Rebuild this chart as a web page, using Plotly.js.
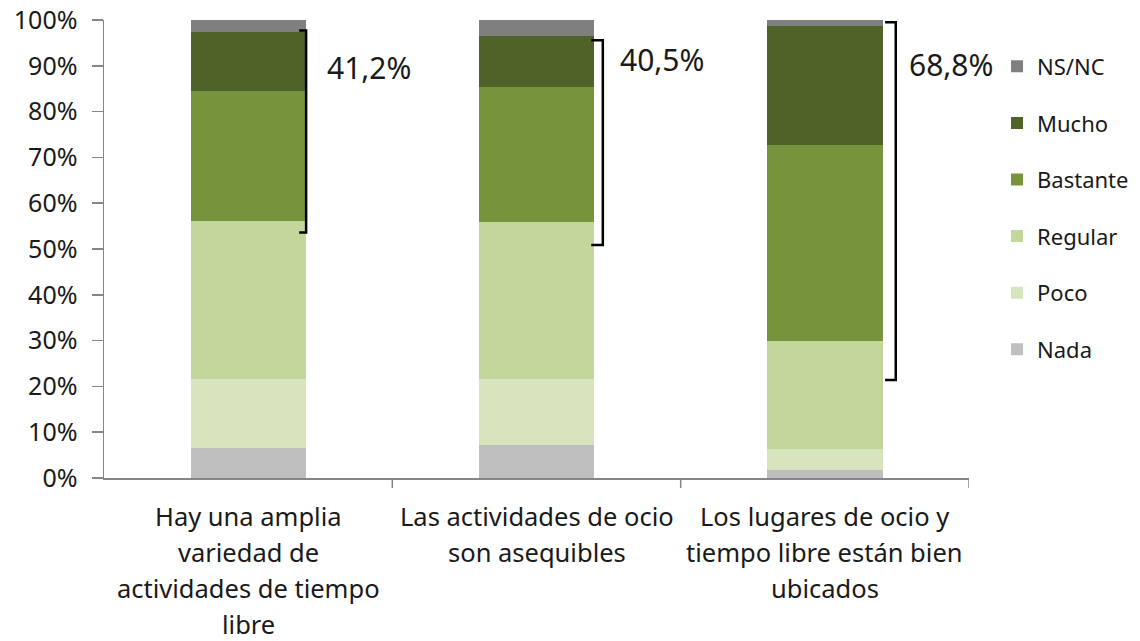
<!DOCTYPE html>
<html>
<head>
<meta charset="utf-8">
<script src="https://cdn.plot.ly/plotly-3.0.1.min.js"></script>
<style>html,body{margin:0;padding:0;background:#fff;}#chart{width:1140px;height:641px;}</style>
</head>
<body>
<div id="chart"></div>
<script>
var categories = [
  "Hay una amplia<br>variedad de<br>actividades de tiempo<br>libre",
  "Las actividades de ocio<br>son asequibles",
  "Los lugares de ocio y<br>tiempo libre están bien<br>ubicados"
];
var seriesNames = ["Nada", "Poco", "Regular", "Bastante", "Mucho", "NS/NC"];
var nada     = [6.5, 7.1, 1.7];
var poco     = [15.1, 14.5, 4.7];
var regular  = [34.6, 34.3, 23.5];
var bastante = [28.2, 29.4, 42.8];
var mucho    = [13.0, 11.1, 26.0];
var nsnc     = [2.6, 3.6, 1.3];
var bracketLabels = ["41,2%", "40,5%", "68,8%"];
var yTickVals = [0, 10, 20, 30, 40, 50, 60, 70, 80, 90, 100];

var colors = ["#bfbfbf", "#d7e4bd", "#c3d69b", "#77933c", "#4f6228", "#7f7f7f"];
var seriesValues = [nada, poco, regular, bastante, mucho, nsnc];
var FONT = "Noto Sans, Open Sans, sans-serif";
var TXT = "#1a1a1a";

var traces = seriesValues.map(function (vals, i) {
  return {
    type: "bar",
    name: seriesNames[i],
    x: [0, 1, 2],
    y: vals,
    marker: { color: colors[i], line: { width: 0 } },
    legendgroup: "g" + i,
    legendrank: 100 - i,
    hoverinfo: "y+name"
  };
});

// bracket geometry (annotation positions)
var brackets = [
  { xv: 0.201, xt: 0.177, top: 97.7, bot: 53.6, lx: 0.267, ly: 89.7 },
  { xv: 1.230, xt: 1.190, top: 95.6, bot: 50.9, lx: 1.283, ly: 91.3 },
  { xv: 2.246, xt: 2.209, top: 99.5, bot: 21.4, lx: 2.284, ly: 90.2 }
];
var shapes = brackets.map(function (b) {
  return {
    type: "path", xref: "x", yref: "y",
    path: "M" + b.xt + "," + b.top + " L" + b.xv + "," + b.top + " L" + b.xv + "," + b.bot + " L" + b.xt + "," + b.bot,
    line: { color: "#000", width: 2.5 }
  };
});
var annotations = brackets.map(function (b, i) {
  return {
    x: b.lx, y: b.ly, xref: "x", yref: "y", text: bracketLabels[i],
    showarrow: false, xanchor: "left", yanchor: "middle",
    font: { family: FONT, size: 30, color: TXT }
  };
});
// category labels, one annotation per line for Excel-like line spacing
categories.forEach(function (c, ci) {
  c.split("<br>").forEach(function (line, k) {
    annotations.push({
      x: ci, y: 0, xref: "x", yref: "paper", text: line,
      showarrow: false, xanchor: "center", yanchor: "middle",
      yshift: -(38 + 36 * k),
      font: { family: FONT, size: 25.5, color: TXT }
    });
  });
});

var layout = {
  width: 1140, height: 641,
  margin: { l: 104, r: 171, t: 20, b: 163 },
  paper_bgcolor: "#fff", plot_bgcolor: "#fff",
  barmode: "stack",
  bargap: 0.6,
  showlegend: true,
  font: { family: FONT, color: TXT },
  xaxis: {
    type: "linear",
    range: [-0.5, 2.5],
    showticklabels: false,
    ticks: "",
    showgrid: false, zeroline: false,
    showline: true, linecolor: "#868686", linewidth: 1.5,
    fixedrange: true
  },
  yaxis: {
    range: [0, 100],
    tickmode: "array",
    tickvals: yTickVals,
    ticktext: yTickVals.map(function (v) { return v + "%"; }),
    ticks: "outside", ticklen: 11, tickcolor: "#868686", tickwidth: 1.5,
    showgrid: false, zeroline: false,
    showline: true, linecolor: "#868686", linewidth: 1.5,
    tickfont: { family: FONT, size: 25, color: TXT },
    ticklabelstandoff: 9,
    fixedrange: true
  },
  legend: {
    xref: "container", yref: "container",
    x: 0.8746, y: 0.929, xanchor: "left", yanchor: "top",
    traceorder: "grouped",
    tracegroupgap: 25,
    font: { family: FONT, size: 22, color: TXT },
    bgcolor: "rgba(0,0,0,0)",
    itemclick: false, itemdoubleclick: false
  },
  shapes: shapes.concat([0.5, 1.5, 2.5].map(function (xb) {
    return { type: "line", xref: "x", yref: "paper", x0: xb, x1: xb, y0: 0, y1: -0.022,
             line: { color: "#868686", width: 1.5 } };
  })),
  annotations: annotations
};

Plotly.newPlot("chart", traces, layout, { displayModeBar: false, staticPlot: true });
</script>
</body>
</html>
